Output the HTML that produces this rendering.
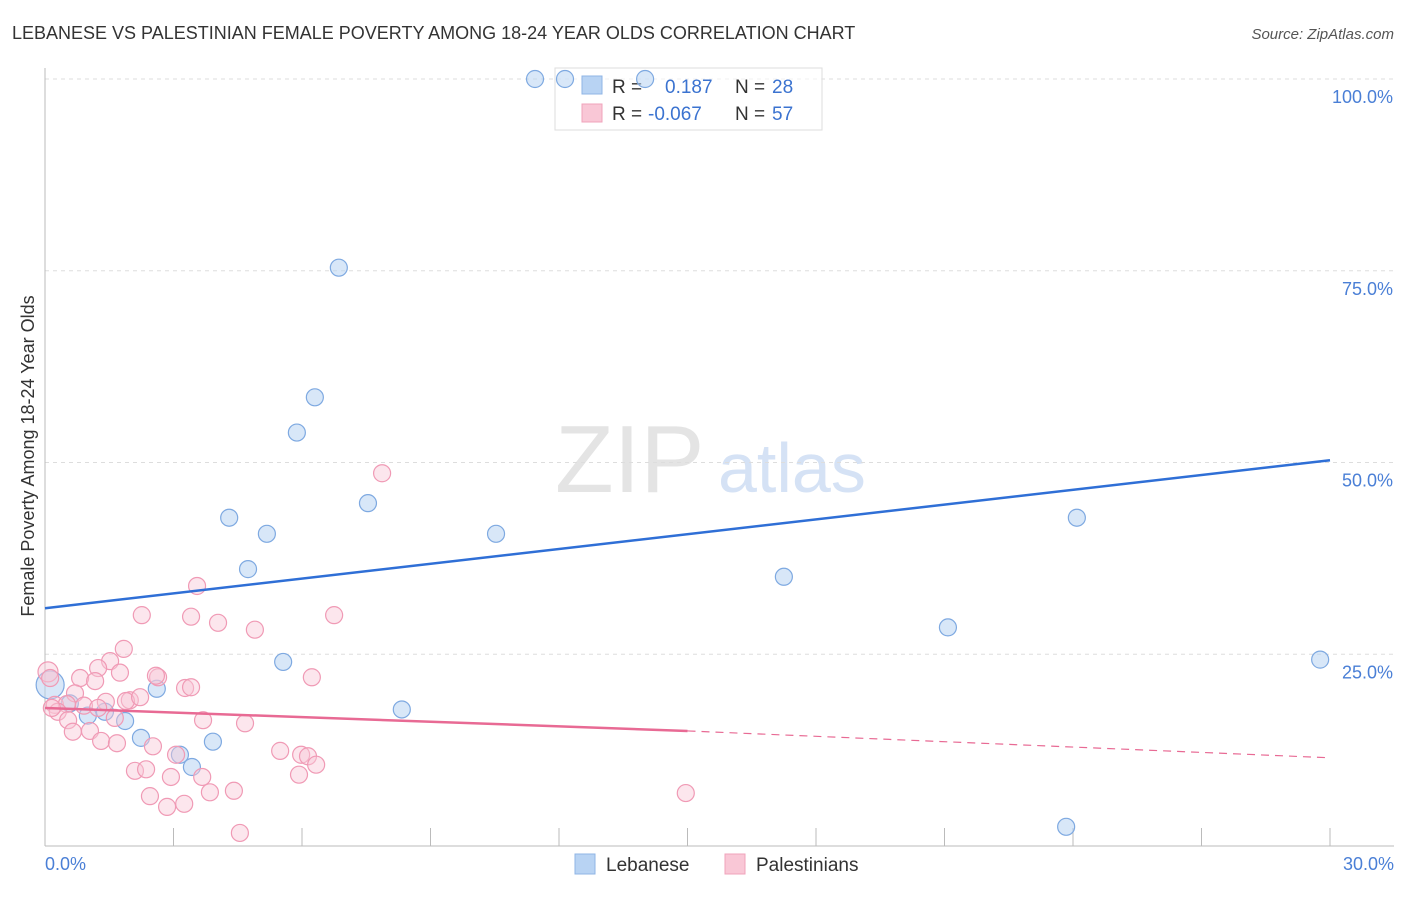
<!DOCTYPE html>
<html><head><meta charset="utf-8"><style>
body{margin:0;background:#fff;font-family:"Liberation Sans",sans-serif;}
svg text{font-family:"Liberation Sans",sans-serif;}
</style></head><body>
<svg id="chart" width="1406" height="892" viewBox="0 0 1406 892">
<text x="12" y="39" font-size="18" fill="#333">LEBANESE VS PALESTINIAN FEMALE POVERTY AMONG 18-24 YEAR OLDS CORRELATION CHART</text>
<text x="1394" y="39" font-size="15" fill="#555" font-style="italic" text-anchor="end">Source: ZipAtlas.com</text>
<text x="555" y="492" font-size="96" fill="#e4e4e4" font-family="Liberation Serif">ZIP</text>
<text x="718" y="492" font-size="70" fill="#d5e2f5">atlas</text>
<g id="grid"></g>
<g id="axes"></g>
<g>
<rect x="555" y="68" width="267" height="62" fill="#fff" fill-opacity="0.6" stroke="#ddd"/>
<rect x="582" y="76" width="20" height="18" fill="#b8d3f3" stroke="#8fb4e6"/>
<rect x="582" y="104" width="20" height="18" fill="#f9c7d6" stroke="#f0a3bb"/>
<text x="612" y="93" font-size="19" fill="#333">R = </text><text x="665" y="93" font-size="19" fill="#3b73d0">0.187</text>
<text x="735" y="93" font-size="19" fill="#333">N = </text><text x="772" y="93" font-size="19" fill="#3b73d0">28</text>
<text x="612" y="120" font-size="19" fill="#333">R = </text><text x="648" y="120" font-size="19" fill="#3b73d0">-0.067</text>
<text x="735" y="120" font-size="19" fill="#333">N = </text><text x="772" y="120" font-size="19" fill="#3b73d0">57</text>
</g>
<g id="marks"></g>
<text transform="translate(34,456) rotate(-90)" font-size="18" fill="#333" text-anchor="middle">Female Poverty Among 18-24 Year Olds</text>
<text x="45" y="870" font-size="18" fill="#4a7fd6">0.0%</text>
<text x="1394" y="870" font-size="18" fill="#4a7fd6" text-anchor="end">30.0%</text>
<g>
<rect x="575" y="854" width="20" height="20" fill="#b8d3f3" stroke="#8fb4e6"/>
<text x="606" y="871" font-size="19" fill="#333">Lebanese</text>
<rect x="725" y="854" width="20" height="20" fill="#f9c7d6" stroke="#f0a3bb"/>
<text x="756" y="871" font-size="19" fill="#333">Palestinians</text>
</g>
</svg>
<script>
const lebX=[11.44,12.14,14.01,6.86,6.30,5.88,4.30,5.18,7.54,4.74,10.53,17.25,24.09,21.08,29.77,5.56,8.33,2.61,1.87,1.40,1.00,0.58,0.12,2.24,3.15,3.92,3.43,23.84];
const lebY=[100,100,100,75.4,58.5,53.9,42.8,40.7,44.7,36.1,40.7,35.1,42.8,28.5,24.3,24.0,17.8,20.5,16.3,17.5,17.0,18.6,21.0,14.1,11.9,13.6,10.3,2.5];
const palPx=[382,197,142,191,218,255,334,124,110,98,80,48,50,120,158,95,75,185,191,312,130,106,126,140,55,67,84,58,68,115,203,245,73,90,101,117,153,280,301,308,176,316,135,146,171,202,299,150,210,234,184,167,240,686,52,156,98];
const palPy=[473,586,615,617,623,630,615,649,661,668,678,672,678,673,677,681,693,688,687,677,700,702,701,697,705,704,706,712,720,718,720,723,732,731,741,743,746,751,755,756,755,765,771,769,777,777,775,796,792,791,804,807,833,793,708,676,708];
const palX=palPx.map(p=>+((p-45)/1285*30).toFixed(2));
const palY=palPy.map(p=>+((846-p)/7.67).toFixed(1));
const yTicks=[25,50,75,100];
const yTickLabels=["25.0%","50.0%","75.0%","100.0%"];
const xTicks=[0,3,6,9,12,15,18,21,24,27,30];
const lebTrend=[31.0,50.3];
const palTrend=[18.0,15.0,11.5];
const X=v=>45+v/30*1285, Y=v=>846-v*7.67;
const NS="http://www.w3.org/2000/svg";
function mk(p,t,a){const e=document.createElementNS(NS,t);for(const k in a)e.setAttribute(k,a[k]);p.appendChild(e);return e;}
const grid=document.getElementById('grid'),axes=document.getElementById('axes'),marks=document.getElementById('marks');
yTicks.forEach((v,i)=>{
 const l=mk(grid,'line',{x1:45,x2:1394,y1:Y(v),y2:Y(v),stroke:'#ddd','stroke-dasharray':'4,4'});
 
 
 const t=mk(grid,'text',{x:1393,y:Y(v)+24,'font-size':18,fill:'#4a7fd6','text-anchor':'end'});
 t.textContent=yTickLabels[i];
 
 
});
const xa=mk(axes,'line',{x1:45,x2:1394,y1:846,y2:846,stroke:'#bbb'});


const ya=mk(axes,'line',{x1:45,x2:45,y1:68,y2:846,stroke:'#bbb'});


xTicks.forEach(v=>{const t=mk(axes,'line',{x1:X(v),x2:X(v),y1:828,y2:846,stroke:'#bbb'});
 
 });
lebX.forEach((x,i)=>{const c=mk(marks,'circle',{cx:X(x),cy:Y(lebY[i]),r:(i==22?14:8.5),fill:'rgba(184,211,243,0.55)',stroke:'#7ea9e1','stroke-width':1.2});
 
 });
palX.forEach((x,i)=>{const c=mk(marks,'circle',{cx:X(x),cy:Y(palY[i]),r:(i==11?10:8.5),fill:'rgba(249,199,214,0.45)',stroke:'#f09ab5','stroke-width':1.2});
 
 });
const bl=mk(marks,'line',{x1:X(0),y1:Y(lebTrend[0]),x2:X(30),y2:Y(lebTrend[1]),stroke:'#2f6fd6','stroke-width':2.5});


const pl=mk(marks,'line',{x1:X(0),y1:Y(palTrend[0]),x2:X(15),y2:Y(palTrend[1]),stroke:'#e86a94','stroke-width':2.5});


const pd=mk(marks,'line',{x1:X(15),y1:Y(palTrend[1]),x2:X(30),y2:Y(palTrend[2]),stroke:'#e86a94','stroke-width':1.2,'stroke-dasharray':'8,6'});


</script>
</body></html>
